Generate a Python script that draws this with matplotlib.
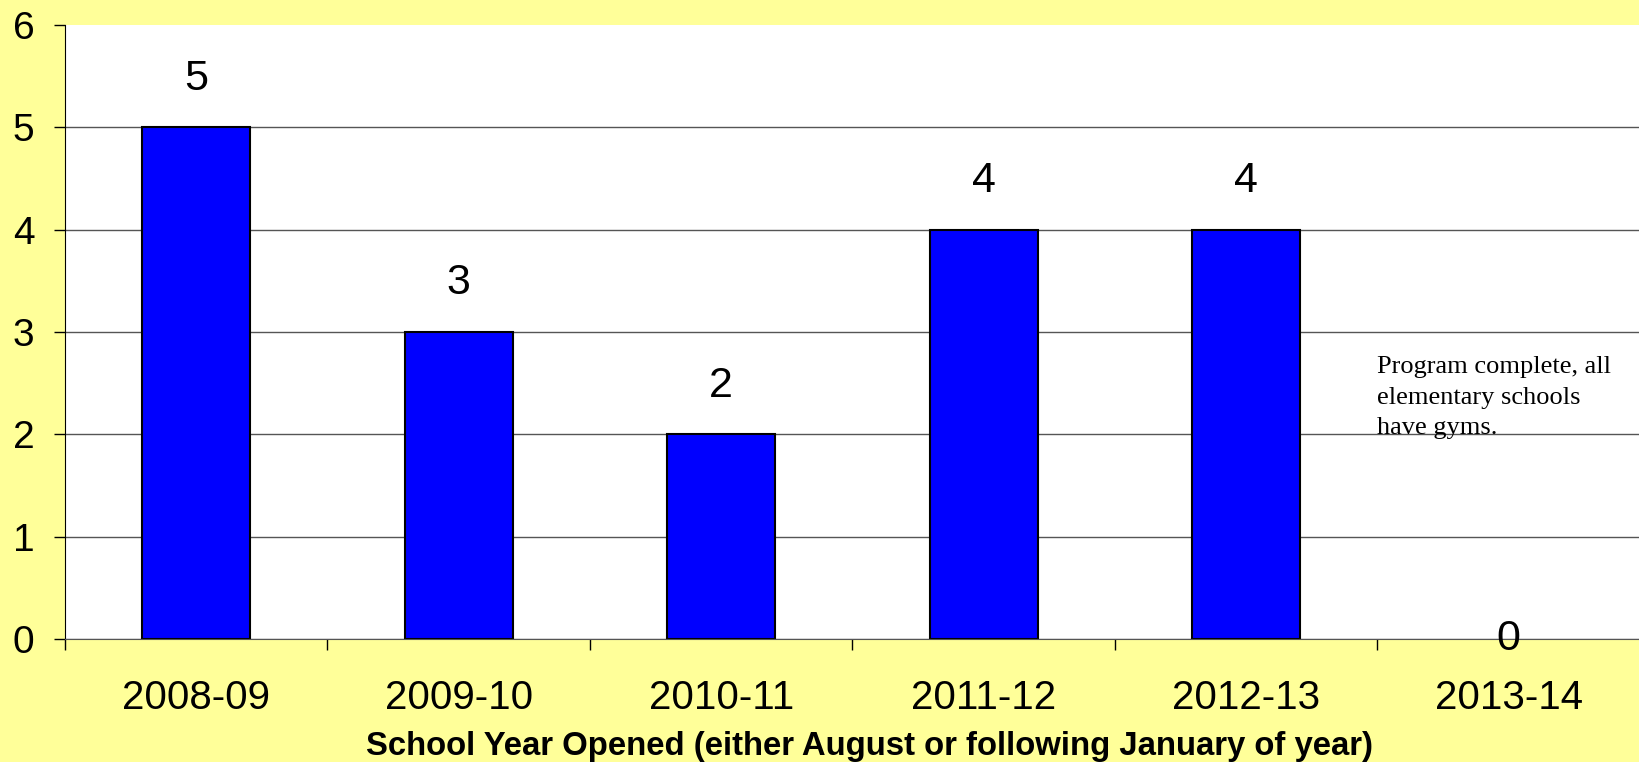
import matplotlib.pyplot as plt

plt.rcParams["font.family"] = ["Liberation Sans", "DejaVu Sans"]

# datos del grafico
years = ["2008-09", "2009-10", "2010-11", "2011-12", "2012-13", "2013-14"]
gyms = [5, 3, 2, 4, 4, 0]
y_ticks = [0, 1, 2, 3, 4, 5, 6]
note = "Program complete, all\nelementary schools\nhave gyms."

fig = plt.figure(figsize=(16.4, 7.62), dpi=100, facecolor="#FFFF99")
ax = fig.add_axes([0.0396, 0.1614, 0.9604, 0.806])
ax.set_facecolor("white")
ax.set_axisbelow(True)

x = list(range(len(years)))
# sin borde en barras de altura cero
edge_w = [1.5 if v > 0 else 0 for v in gyms]
ax.bar(x, gyms, width=0.41, color="#0000FF", edgecolor="black", linewidth=edge_w, zorder=2)

ax.set_xlim(-0.5, len(years) - 0.5)
ax.set_ylim(0, 6)
ax.set_yticks(y_ticks)
ax.tick_params(axis="y", labelsize=28, length=8, width=1, pad=14)
ax.yaxis.grid(True, color="#555555", linewidth=1)
ax.yaxis.get_gridlines()[-1].set_visible(False)

# ticks del eje x en los limites de cada categoria, etiquetas centradas
ax.set_xticks([i - 0.5 for i in range(len(years) + 1)])
ax.set_xticklabels([])
ax.set_xticks(x, minor=True)
ax.set_xticklabels(years, minor=True)
ax.tick_params(axis="x", which="major", length=8, width=1)
ax.tick_params(axis="x", which="minor", length=0, labelsize=29, pad=29)

for s in ["top", "right"]:
    ax.spines[s].set_visible(False)
ax.spines["left"].set_color("black")
ax.spines["bottom"].set_color("#555555")

ax.set_xlabel("School Year Opened (either August or following January of year)",
              fontsize=23.7, fontweight="bold", labelpad=10)
ax.xaxis.label.set_x(0.511)

# etiquetas de valores
for xi, v in zip(x, gyms):
    off = 35 if v > 0 else 0
    ax.annotate(str(v), (xi, v), xytext=(0, off), textcoords="offset points",
                ha="center", va="center", fontsize=31, zorder=4)

ax.text(4.5, 2.76, note, ha="left", va="top", fontsize=19,
        family="Liberation Serif", linespacing=1.5, zorder=4)

plt.savefig("out.png", dpi=100, facecolor=fig.get_facecolor())
